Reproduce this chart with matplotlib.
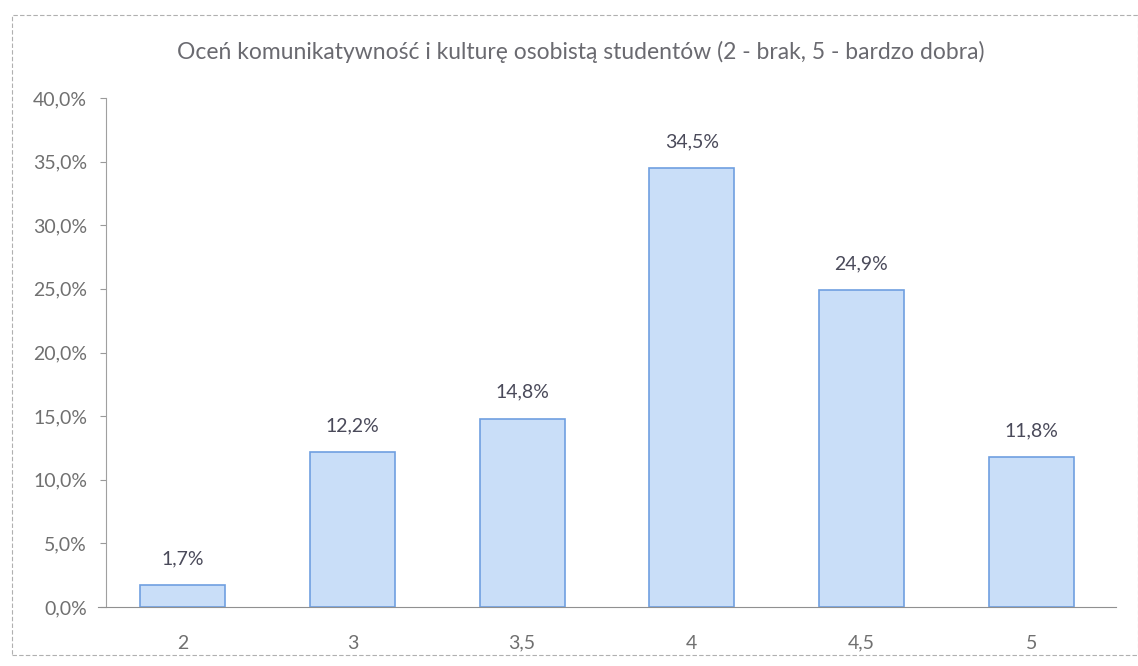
import matplotlib
matplotlib.use("Agg")
import matplotlib.pyplot as plt
from matplotlib.ticker import FuncFormatter, MultipleLocator
from matplotlib.patches import Rectangle

categories = ["2", "3", "3,5", "4", "4,5", "5"]
values = [1.7, 12.2, 14.8, 34.5, 24.9, 11.8]
title = "Oceń komunikatywność i kulturę osobistą studentów (2 - brak, 5 - bardzo dobra)"

plt.rcParams['font.family'] = ['Lato', 'DejaVu Sans']

fig = plt.figure(figsize=(11.38, 6.66), dpi=100)
fig.patches.append(Rectangle((12/1138, 11/666), 1 - 12/1138, 1 - 26/666,
                             transform=fig.transFigure, fill=False,
                             edgecolor='#b0b0b0', linewidth=0.8, linestyle=(0, (4, 2))))
ax = fig.add_axes([98/1138, 1 - 607/666, 1018/1138, (607 - 98)/666])

x = range(len(categories))
bars = ax.bar(x, values, width=0.5, color='#c9def8', edgecolor='#6f9fe0', linewidth=1.2)
for xi, v in zip(x, values):
    ax.text(xi, v + 1.4, f"{v:.1f}%".replace('.', ','), ha='center', va='bottom',
            fontsize=14, color='#4a4a5a')

ax.set_ylim(0, 40)
ax.set_xlim(-0.5, len(categories) - 0.5)
ax.yaxis.set_major_locator(MultipleLocator(5))
ax.yaxis.set_major_formatter(FuncFormatter(lambda v, p: f"{v:.1f}%".replace('.', ',')))
ax.set_xticks(list(x))
ax.set_xticklabels(categories)
ax.tick_params(axis='y', colors='#9a9a9a', labelcolor='#707070', labelsize=14,
               length=4, direction='out', pad=10)
ax.tick_params(axis='x', length=0, labelcolor='#707070', labelsize=14, pad=20)
for s in ['top', 'right']:
    ax.spines[s].set_visible(False)
ax.spines['left'].set_color('#a0a0a0')
ax.spines['bottom'].set_color('#909090')
ax.spines['left'].set_position(('data', -0.45))

fig.text(0.51, 1 - 52/666, title, ha='center', va='center', fontsize=16.5, color='#6a6a70')

fig.savefig("out.png", dpi=100, facecolor='white')
